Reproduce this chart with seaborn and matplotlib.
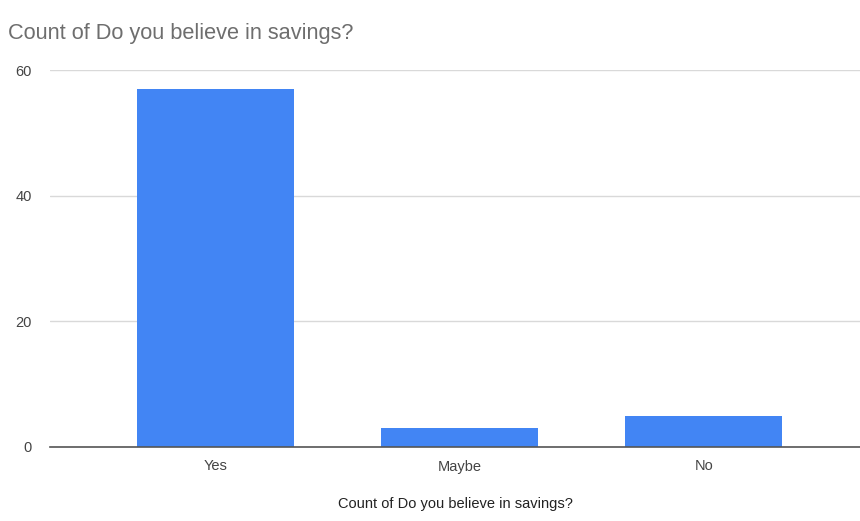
import pandas as pd
import seaborn as sns
from matplotlib import pyplot as plt

# answers and counts
answers = ["Yes", "Maybe", "No"]
counts = [57, 3, 5]
title = "Count of Do you believe in savings?"

df = pd.DataFrame({"Answer": answers, "Count": counts})

sns.set_theme(style="white")
plt.rcParams["font.family"] = ["Liberation Sans", "DejaVu Sans"]

fig = plt.figure(figsize=(8.6, 5.21), dpi=100)
ax = fig.add_axes([50 / 860, 74 / 521, 810 / 860, 377 / 521])

sns.barplot(df, x="Answer", y="Count", color="#4285F4", saturation=1,
            width=0.644, ax=ax, zorder=3, edgecolor="none")

ax.set_xlim(-0.678, 2.64)
ax.set_ylim(0, 60)
ax.set_yticks([0, 20, 40, 60])
ax.yaxis.grid(True, color="#d9d9d9", linewidth=1)
ax.set_axisbelow(True)
for s in ["top", "right", "left"]:
    ax.spines[s].set_visible(False)
ax.spines["bottom"].set_color("#555555")
ax.spines["bottom"].set_linewidth(1.2)
ax.spines["bottom"].set_zorder(4)
ax.tick_params(axis="both", length=0, labelsize=10.5, labelcolor="#444444")
ax.tick_params(axis="y", pad=13)
ax.tick_params(axis="x", pad=9)
ax.set_ylabel("")
ax.set_xlabel(title, fontsize=10.5, color="#222222", labelpad=17)

fig.text(8 / 860, 1 - 33 / 521, title, fontsize=15.7, color="#6e6e6e",
         ha="left", va="center")

plt.savefig("out.png", dpi=100)
plt.close()
